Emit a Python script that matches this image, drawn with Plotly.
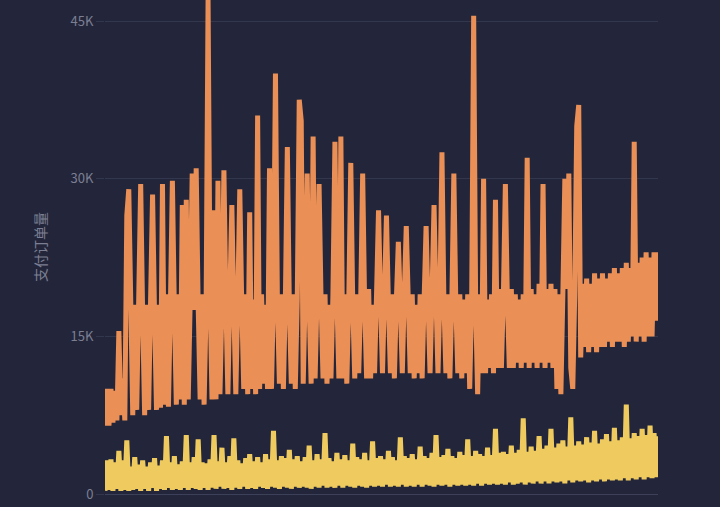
import plotly.graph_objects as go

# values in thousands
orders_total = [
    6.5, 10, 6.5, 10, 6.8, 9.8, 7, 15.5, 7.5, 11, 7, 26.5, 29, 17, 7.5, 18, 8, 18.5, 29.5, 17,
    7.5, 18, 8, 18.5, 28.5, 17, 8, 18, 8.2, 29.5, 8.5, 19, 8.3, 18, 29.8, 17.5, 8.5, 19, 9, 27.5,
    8.5, 28, 9, 18.5, 30.5, 17.5, 31, 18, 9, 19, 8.5, 17.5, 47, 19, 9, 27, 9, 29.8, 9.5, 18,
    30.8, 18, 9.5, 19, 27.5, 17.5, 9.5, 18.5, 29, 18, 10, 19, 9.5, 26.8, 10, 18.5, 9.5, 36, 10, 19,
    10.5, 18, 10, 31, 10, 19, 40, 18, 10.5, 19, 10, 18.5, 33, 18, 10.5, 19, 10, 18.5, 37.5, 35.5,
    10.5, 19, 30.5, 18, 10.5, 34, 11, 19, 29.5, 18.5, 11, 19, 10.5, 18, 11, 19, 33.5, 18.5, 11, 34,
    11, 19, 10.5, 18.5, 31.5, 18, 11, 19, 11.5, 18.5, 30.5, 18, 11, 19.5, 11, 18, 11.5, 19, 27, 18.5,
    11.5, 19, 26.5, 18, 11.5, 19, 11, 18.5, 24, 18, 11.5, 19, 25.5, 18.5, 11.5, 19, 11, 18, 11.5, 19,
    11, 18.5, 25.5, 18, 11.5, 19, 27.5, 18.5, 11.5, 19, 32.5, 18, 11.5, 19, 11, 18.5, 30.5, 18, 11.5, 19,
    11, 18.5, 11.5, 19, 10, 18.5, 45.5, 18, 9.5, 19, 11.5, 30, 11.5, 18.5, 12, 19, 11.5, 28, 12, 19.5,
    12, 19, 29.5, 18.5, 12, 19.5, 12, 19, 12.5, 18.5, 12, 19, 12.5, 32, 12, 19.5, 12.5, 19, 12, 20,
    12.5, 29.5, 12, 19.5, 12.5, 20, 12, 19.5, 10, 19, 9.5, 19, 30, 19.5, 30.5, 12, 10, 19, 35, 37,
    13, 20, 14, 20.5, 13.5, 20, 14, 21, 13.5, 20.5, 14, 21, 14, 20.5, 14.5, 21, 14, 21.5, 14.5, 21,
    14.5, 21.5, 14, 22, 14.5, 21.5, 15, 33.5, 14.5, 22, 15, 22.5, 14.5, 23, 15, 22.5, 15, 23, 16.5, 23,
]
orders_new = [
    0.3, 3.2, 0.4, 3.3, 0.3, 3.0, 0.5, 4.1, 0.3, 3.2, 0.4, 5.1, 0.3, 2.6, 0.4, 3.5, 0.5, 2.8, 0.3, 3.2,
    0.5, 2.6, 0.3, 3.0, 0.6, 3.4, 0.3, 2.7, 0.5, 3.2, 0.4, 5.5, 0.6, 3.0, 0.4, 3.6, 0.5, 2.8, 0.4, 3.1,
    0.6, 5.6, 0.4, 3.0, 0.6, 3.5, 0.5, 5.2, 0.4, 3.0, 0.6, 2.9, 0.4, 3.3, 0.6, 5.6, 0.5, 3.1, 0.7, 4.4,
    0.5, 3.0, 0.6, 3.6, 0.4, 5.3, 0.6, 3.2, 0.5, 2.9, 0.7, 3.4, 0.5, 3.8, 0.6, 3.1, 0.5, 3.5, 0.7, 3.0,
    0.6, 3.8, 0.5, 3.3, 0.7, 6.0, 0.6, 3.2, 0.5, 3.6, 0.7, 3.4, 0.6, 4.2, 0.5, 3.3, 0.7, 3.6, 0.6, 3.1,
    0.7, 3.5, 0.6, 4.6, 0.5, 3.2, 0.7, 3.8, 0.6, 3.3, 0.8, 5.8, 0.6, 3.4, 0.7, 3.1, 0.6, 3.9, 0.8, 3.3,
    0.6, 3.7, 0.8, 3.2, 0.7, 4.8, 0.6, 3.5, 0.8, 3.3, 0.7, 3.9, 0.6, 3.2, 0.8, 5.0, 0.7, 3.4, 0.8, 3.6,
    0.7, 3.3, 0.9, 4.1, 0.7, 3.5, 0.8, 3.2, 0.7, 5.4, 0.9, 3.6, 0.7, 3.4, 0.8, 3.8, 0.7, 3.3, 0.9, 4.5,
    0.7, 3.6, 0.9, 3.4, 0.8, 3.9, 0.7, 5.6, 0.9, 3.5, 0.8, 3.7, 0.9, 4.3, 0.7, 3.6, 0.9, 3.4, 0.8, 4.0,
    0.9, 3.7, 0.8, 5.2, 0.9, 3.6, 0.8, 4.1, 1.0, 3.8, 0.8, 3.6, 1.0, 4.4, 0.9, 3.7, 1.0, 6.2, 0.9, 3.9,
    1.0, 4.0, 0.9, 3.8, 1.1, 4.6, 0.9, 3.9, 1.0, 4.2, 1.1, 7.2, 0.9, 4.0, 1.1, 4.5, 1.0, 4.1, 1.2, 5.5,
    1.0, 4.3, 1.2, 4.6, 1.0, 6.2, 1.2, 4.4, 1.1, 4.8, 1.2, 5.1, 1.0, 4.5, 1.3, 7.3, 1.1, 4.6, 1.3, 5.0,
    1.2, 4.7, 1.3, 5.4, 1.1, 4.9, 1.3, 6.0, 1.2, 4.8, 1.4, 5.2, 1.2, 5.7, 1.4, 5.0, 1.3, 6.3, 1.4, 5.1,
    1.3, 5.4, 1.5, 8.5, 1.3, 5.3, 1.5, 5.8, 1.4, 5.5, 1.6, 6.2, 1.4, 5.6, 1.6, 6.5, 1.5, 5.8, 1.6, 5.5,
]
days = list(range(len(orders_total)))

fig = go.Figure()
fig.add_trace(go.Scatter(
    x=days, y=[v * 1000 for v in orders_total], mode="lines",
    line=dict(color="#ea8f55", width=5), showlegend=False,
))
fig.add_trace(go.Scatter(
    x=days, y=[v * 1000 for v in orders_new], mode="lines",
    line=dict(color="#efcb5f", width=5), showlegend=False,
))

fig.update_layout(
    width=720, height=507,
    margin=dict(l=105, r=62, t=0, b=13),
    paper_bgcolor="#23263b", plot_bgcolor="#23263b",
    font=dict(family="Noto Sans CJK SC, Noto Sans", color="#7c7f92", size=13),
)
fig.update_xaxes(
    range=[0, len(days) - 1], showgrid=False, showticklabels=False, zeroline=False,
    showline=True, linecolor="#3c4058", linewidth=1,
)
fig.update_yaxes(
    range=[0, 47000], tickvals=[0, 15000, 30000, 45000], ticktext=["0", "15K", "30K", "45K"],
    gridcolor="#33374d", zeroline=False, ticks="outside", ticklen=8, tickcolor="#33374d",
    title=dict(text="支付订单量", standoff=20, font=dict(size=14)),
)

fig.write_html(
    "out.html",
    config={"displayModeBar": False},
    post_script="document.body.style.margin='0';document.body.style.background='#23263b';",
)
